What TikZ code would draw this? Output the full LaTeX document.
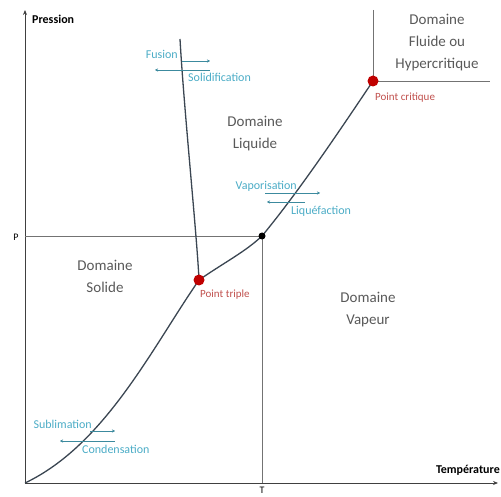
\documentclass[tikz,border=0pt]{standalone}
\usepackage{fontspec}
\setmainfont{Carlito}
\usetikzlibrary{arrows.meta}
\definecolor{gristexte}{HTML}{595959}
\definecolor{bleuphase}{HTML}{4BACC6}
\definecolor{rougepoint}{HTML}{C00000}
\definecolor{rougetexte}{HTML}{C0504D}
\definecolor{courbe}{HTML}{3B4652}

\begin{document}
\begin{tikzpicture}[x=1pt,y=-1pt,
    domaine/.style={text=gristexte,align=center,font=\fontsize{15}{22}\selectfont},
    transition/.style={text=bleuphase,inner sep=0pt,font=\fontsize{12}{14}\selectfont},
    fleche/.style={draw=bleuphase!80!black,thin,-{Stealth[length=3pt,width=3pt]}},
    pointlabel/.style={text=rougetexte,inner sep=0pt,font=\fontsize{11}{13}\selectfont},
    axislabel/.style={inner sep=0pt,font=\fontsize{12}{14}\selectfont\bfseries}]

    \useasboundingbox (0,0) rectangle (501,497);

    % reperes
    \coordinate (O) at (25,483);
    \coordinate (Ymax) at (25,10);
    \coordinate (Xmax) at (498,483);
    \coordinate (Pg) at (25,236);
    \coordinate (Td) at (262,483);
    \coordinate (Fhaut) at (180,39);
    \coordinate (Chaut) at (373,10);
    \coordinate (Cdroite) at (490,81);
    \coordinate (tp) at (199,280);
    \coordinate (cp) at (373,81);
    \coordinate (pt) at (262,236);

    % axes
    \draw[thick,draw=black!75,-{Stealth[length=5pt,width=4pt]}] (O) -- (Ymax);
    \draw[thick,draw=black!75,-{Stealth[length=5pt,width=4pt]}] (O) -- (Xmax);
    \node[axislabel,anchor=west] (pression) at (32,19) {Pression};
    \node[axislabel,anchor=south east] (temperature) at (500,476) {Température};

    % P et T
    \draw[black!55,semithick] (Pg) -- (pt) -- (Td);
    \node[axislabel,font=\fontsize{10}{12}\selectfont] (P) at (16,237) {P};
    \node[axislabel,font=\fontsize{10}{12}\selectfont,anchor=north] (T) at (262,487) {T};

    % domaine hypercritique
    \draw[black!55,semithick] (Chaut) -- (cp) -- (Cdroite);

    % courbes de changement d'etat
    \begin{scope}[draw=courbe,line width=1.3pt]
        \draw (tp) .. controls (197,236) and (184,110) .. (Fhaut);
        \draw (O) .. controls (105,445) and (152,348) .. (tp);
        \draw (tp) .. controls (225,262) and (245,252) .. (pt);
        \draw (pt) .. controls (300,190) and (340,130) .. (cp);
    \end{scope}

    % points remarquables
    \begin{scope}[every node/.style={circle,inner sep=0pt}]
        \node[fill=rougepoint,minimum size=11pt] (TP) at (tp) {};
        \node[fill=rougepoint,minimum size=11pt] (CP) at (cp) {};
        \node[fill=black,minimum size=7pt] (PT) at (pt) {};
    \end{scope}

    % domaines
    \node[domaine] (solide) at (105,276) {Domaine\\Solide};
    \node[domaine] (liquide) at (255,134) {Domaine\\Liquide};
    \node[domaine] (vapeur) at (368,310) {Domaine\\Vapeur};
    \node[domaine] (fluide) at (437,43) {Domaine\\Fluide ou\\Hypercritique};

    \node[pointlabel,anchor=west] (lcp) at (375,98) {Point critique};
    \node[pointlabel,anchor=west] (ltp) at (200,295) {Point triple};

    % transitions
    \node[transition,anchor=east] (fusion) at (178,54) {Fusion};
    \node[transition,anchor=west] (solidif) at (188,77) {Solidification};
    \coordinate (f1) at (182,61); \coordinate (f2) at (210,61);
    \coordinate (s1) at (210,70); \coordinate (s2) at (155,70);
    \draw[fleche] (f1) -- (f2);
    \draw[fleche] (s1) -- (s2);

    \node[transition,anchor=east] (vapo) at (297,186) {Vaporisation};
    \node[transition,anchor=west] (liquef) at (291,211) {Liquéfaction};
    \coordinate (v1) at (265,193); \coordinate (v2) at (320,193);
    \coordinate (l1) at (305,202); \coordinate (l2) at (267,202);
    \draw[fleche] (v1) -- (v2);
    \draw[fleche] (l1) -- (l2);

    \node[transition,anchor=east] (sublim) at (92,424) {Sublimation};
    \node[transition,anchor=west] (conden) at (82,449) {Condensation};
    \coordinate (b1) at (90,431); \coordinate (b2) at (115,431);
    \coordinate (c1) at (115,441); \coordinate (c2) at (60,441);
    \draw[fleche] (b1) -- (b2);
    \draw[fleche] (c1) -- (c2);

\end{tikzpicture}
\end{document}
